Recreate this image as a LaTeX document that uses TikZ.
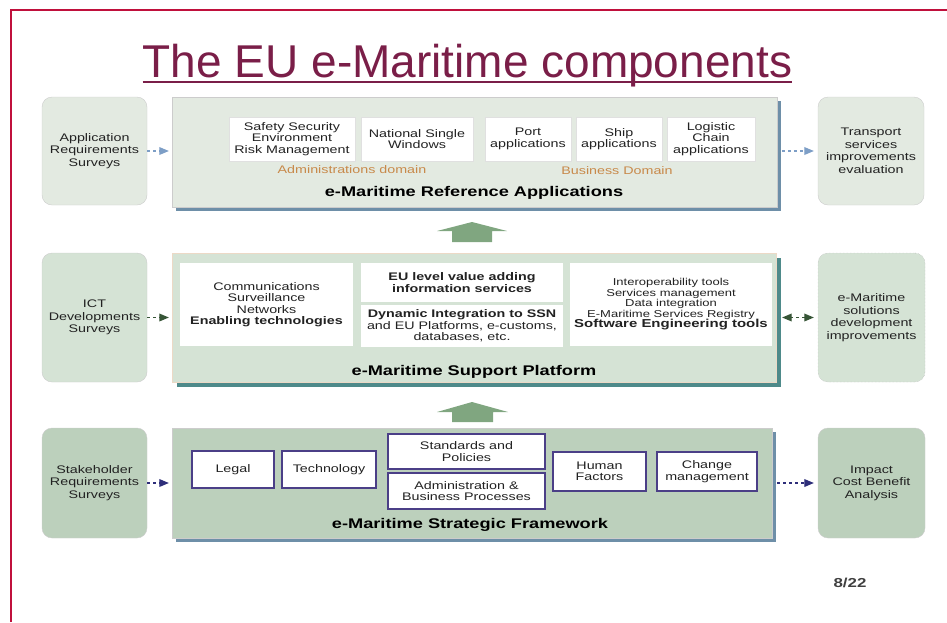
\documentclass[tikz,border=0pt]{standalone}
\usepackage{fontspec}
\setmainfont{Liberation Sans}
\newfontfamily\widesans[FakeStretch=1.3]{Liberation Sans}
\usetikzlibrary{arrows}
\usetikzlibrary{shadows}

\definecolor{framered}{RGB}{192,16,60}
\definecolor{titlered}{RGB}{122,30,72}
\definecolor{paleone}{RGB}{227,234,225}
\definecolor{paletwo}{RGB}{213,227,213}
\definecolor{palethree}{RGB}{188,208,188}
\definecolor{steelshadow}{RGB}{110,143,168}
\definecolor{tealshadow}{RGB}{78,138,138}
\definecolor{domainorange}{RGB}{200,137,74}
\definecolor{frampurple}{RGB}{75,63,135}
\definecolor{liftgreen}{RGB}{128,166,128}
\definecolor{linkblue}{RGB}{125,158,198}
\definecolor{linkgreen}{RGB}{55,85,55}
\definecolor{linknavy}{RGB}{46,46,122}
\definecolor{inktext}{RGB}{34,34,34}

\newcommand\sidefont{\widesans\fontsize{11}{12.5}\selectfont}
\newcommand\boxfont{\widesans\fontsize{11}{11.5}\selectfont}
\newcommand\smallboxfont{\widesans\fontsize{10}{10.5}\selectfont}
\newcommand\layerfont{\widesans\bfseries\fontsize{14}{16}\selectfont}

\tikzset{
  sidebox/.style={draw=black!20, rounded corners=10pt, minimum width=105pt,
    align=center, font=\sidefont, text=inktext, inner sep=2pt},
  layer/.style={draw=black!20, inner sep=0pt},
  layerlabel/.style={font=\layerfont, text=black, inner sep=1pt},
  appbox/.style={fill=white, draw=black!12, minimum height=44pt, align=center,
    font=\boxfont, text=inktext, inner sep=1pt},
  techbox/.style={fill=white, align=center, font=\boxfont, text=inktext, inner sep=1pt},
  pillarbox/.style={fill=white, draw=frampurple, line width=2.2pt, align=center,
    font=\boxfont, text=inktext, inner sep=1pt},
  domainlabel/.style={font=\boxfont, text=domainorange, inner sep=1pt},
  link/.style={dash pattern=on 3pt off 3pt, line width=1.2pt},
  lift/.style={fill=liftgreen}
}

\begin{document}
\begin{tikzpicture}[x=1pt,y=-1pt]
  \useasboundingbox (0,0) rectangle (947,622);

  % slide frame and title
  \draw[framered, line width=2pt] (11,622) -- (11,10) -- (947,10);
  \node[font=\fontsize{46}{50}\selectfont, text=titlered, anchor=base, inner sep=0pt] (title) at (467.5,77) {The EU e-Maritime components};
  \draw[titlered, line width=2pt] ([yshift=-5pt]title.base west) -- ([yshift=-5pt]title.base east);

  % reference applications
  \node[sidebox, fill=paleone, minimum height=108pt] (appreq) at (94.5,151) {Application\\Requirements\\Surveys};
  \node[layer, fill=paleone, minimum width=605pt, minimum height=110pt,
    drop shadow={shadow xshift=4pt, shadow yshift=-4pt, fill=steelshadow, opacity=1}] (refapps) at (474.5,152) {};
  \node[appbox, minimum width=126pt] (safety) at (292,139) {Safety Security\\Environment\\Risk Management};
  \node[appbox, minimum width=112pt] (single) at (417,139) {National Single\\Windows};
  \node[appbox, minimum width=86pt] (port) at (528,139) {Port\\applications};
  \node[appbox, minimum width=86pt] (ship) at (619,139) {Ship\\applications};
  \node[appbox, minimum width=88pt] (logistic) at (711,139) {Logistic\\Chain\\applications};
  \node[domainlabel] (admindomain) at (352,170) {Administrations domain};
  \node[domainlabel] (busdomain) at (617,171) {Business Domain};
  \node[layerlabel] (reflabel) at (474,193) {e-Maritime Reference Applications};
  \node[sidebox, fill=paleone, minimum width=106pt, minimum height=108pt] (transport) at (871,151) {Transport\\services\\improvements\\evaluation};
  \draw[link, linkblue, -triangle 45, shorten >=3pt] (appreq.east) -- (appreq.east -| refapps.west);
  \draw[link, linkblue, -triangle 45, shorten <=5pt, shorten >=4pt] (transport.west -| refapps.east) -- (transport.west);

  \fill[lift] (437,231) -- (472,222) -- (507,231) -- (492,231) -- (492,242) -- (452,242) -- (452,231) -- cycle;

  % support platform
  \node[sidebox, fill=paletwo, minimum height=129pt] (ictdev) at (94.5,317.5) {ICT\\Developments\\Surveys};
  \node[layer, fill=paletwo, draw=brown!30, minimum width=604pt, minimum height=129pt,
    drop shadow={shadow xshift=5pt, shadow yshift=-5pt, fill=tealshadow, opacity=1}] (platform) at (474,317.5) {};
  \node[techbox, minimum width=173pt, minimum height=83pt] (enabling) at (266.5,304.5) {Communications\\Surveillance\\Networks\\\textbf{Enabling technologies}};
  \node[techbox, minimum width=202pt, minimum height=39pt] (euvalue) at (462,282.5) {\textbf{EU level value adding}\\\textbf{information services}};
  \node[techbox, minimum width=202pt, minimum height=42pt] (dynamic) at (462,326) {\textbf{Dynamic Integration to SSN}\\and EU Platforms, e-customs,\\databases, etc.};
  \node[techbox, font=\smallboxfont, minimum width=202pt, minimum height=83pt] (swtools) at (671,304.5) {Interoperability tools\\Services management\\Data integration\\E-Maritime Services Registry\\ \bfseries\fontsize{11.5}{12}\selectfont Software Engineering tools};
  \node[layerlabel] (platlabel) at (474,372) {e-Maritime Support Platform};
  \node[sidebox, fill=paletwo, draw=black!30, densely dotted, minimum width=107pt, minimum height=129pt] (solutions) at (871.5,317.5) {e-Maritime\\solutions\\development\\improvements};
  \draw[link, linkgreen, -triangle 45, shorten >=3pt] (ictdev.east) -- (ictdev.east -| platform.west);
  \draw[link, linkgreen, triangle 45-triangle 45, shorten <=6pt, shorten >=4pt] (solutions.west -| platform.east) -- (solutions.west);

  \fill[lift] (437,412) -- (472,402) -- (508,412) -- (493,412) -- (493,422) -- (452,422) -- (452,412) -- cycle;

  % strategic framework
  \node[sidebox, fill=palethree, minimum height=110pt] (stakereq) at (94.5,483) {Stakeholder\\Requirements\\Surveys};
  \node[layer, fill=palethree, minimum width=600pt, minimum height=110pt,
    drop shadow={shadow xshift=4pt, shadow yshift=-4pt, fill=steelshadow, opacity=1}] (framework) at (472,483) {};
  \node[pillarbox, minimum width=82pt, minimum height=37pt] (legal) at (233,469.5) {Legal};
  \node[pillarbox, minimum width=94pt, minimum height=37pt] (technology) at (329,469.5) {Technology};
  \node[pillarbox, minimum width=157pt, minimum height=35pt] (standards) at (466.5,451.5) {Standards and\\Policies};
  \node[pillarbox, minimum width=157pt, minimum height=36pt] (adminproc) at (466.5,491) {Administration \&\\Business Processes};
  \node[pillarbox, minimum width=93pt, minimum height=39pt] (human) at (599.5,471.5) {Human\\Factors};
  \node[pillarbox, minimum width=100pt, minimum height=39pt] (change) at (707,471.5) {Change\\management};
  \node[layerlabel] (fwlabel) at (470,525) {e-Maritime Strategic Framework};
  \node[sidebox, fill=palethree, minimum width=107pt, minimum height=110pt] (impact) at (871.5,483) {Impact\\Cost Benefit\\Analysis};
  \draw[link, linknavy, -triangle 45, shorten >=3pt] (stakereq.east) -- (stakereq.east -| framework.west);
  \draw[link, linknavy, -triangle 45, shorten <=5pt, shorten >=4pt] (impact.west -| framework.east) -- (impact.west);

  \node[font=\widesans\bfseries\fontsize{13}{14}\selectfont, text=black!75] (pagenum) at (850,583) {8/22};
\end{tikzpicture}
\end{document}
